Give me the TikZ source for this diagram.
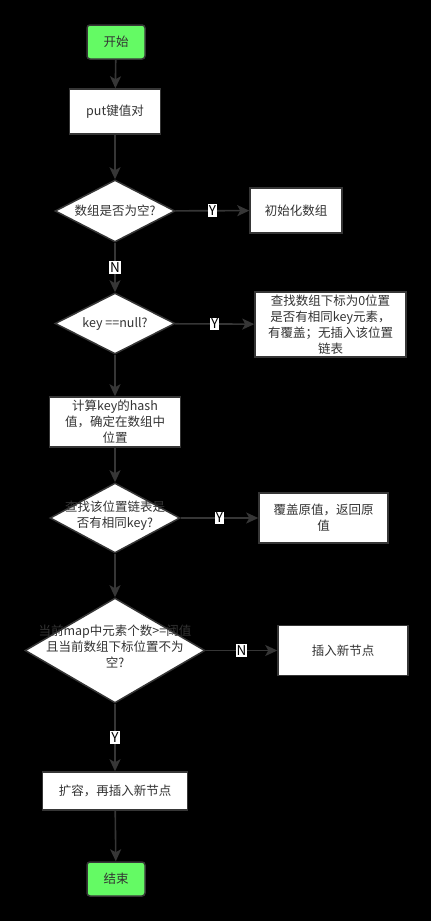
\documentclass[tikz,border=0pt]{standalone}
\usepackage{fontspec}
\setmainfont{Noto Sans CJK SC}
\usetikzlibrary{shapes.geometric,arrows.meta}
\definecolor{startgreen}{RGB}{100,250,100}
\definecolor{linegray}{RGB}{54,54,54}
\definecolor{textgray}{RGB}{51,51,51}

\begin{document}
\begin{tikzpicture}[x=1pt,y=-1pt,
    every node/.style={font=\fontsize{12.5}{16}\selectfont, text=textgray},
    startstop/.style={rectangle, rounded corners=3pt, draw=linegray, line width=1.5pt, fill=startgreen, minimum width=58pt, minimum height=34pt},
    procbox/.style={rectangle, draw=linegray, line width=1.5pt, fill=white, align=center, inner sep=0pt},
    decision/.style={diamond, draw=linegray, line width=1.5pt, fill=white, inner sep=0pt},
    dtext/.style={align=center, inner sep=0pt},
    arr/.style={draw=linegray, line width=1.6pt, -{Stealth[length=12pt,width=11pt,inset=3pt]}},
    lbl/.style={fill=white, text=black, inner xsep=1pt, inner ysep=1.5pt, font=\fontsize{13.5}{14}\selectfont}]
    % Fond
    \fill[black] (0,0) rectangle (431,921);

    % Colonne principale
    \node[startstop] (start) at (116,42) {开始};
    \node[procbox, minimum width=91pt, minimum height=45pt] (put) at (115,111.5) {put键值对};
    \node[decision, minimum width=120pt, minimum height=62pt] (d1) at (115,211) {};
    \node[dtext] (d1t) at (d1) {数组是否为空?};
    \node[decision, minimum width=120pt, minimum height=61pt] (d2) at (115,323.5) {};
    \node[dtext] (d2t) at (d2) {key ==null?};
    \node[procbox, minimum width=131pt, minimum height=50pt] (hash) at (115,422) {计算key的hash\\值，确定在数组中\\位置};
    \node[decision, minimum width=130pt, minimum height=70pt] (d3) at (115,518) {};
    \node[dtext] (d3t) at ([yshift=2pt]d3.center) {查找该位置链表是\\否有相同key?};
    \node[decision, minimum width=180pt, minimum height=105pt] (d4) at (115,650.5) {};
    \node[dtext] (d4t) at ([yshift=4pt]d4.center) {当前map中元素个数>=阈值\\且当前数组下标位置不为\\空?};
    \node[procbox, minimum width=145pt, minimum height=38pt] (grow) at (115,791) {扩容，再插入新节点};
    \node[startstop] (end) at (116,879) {结束};

    % Colonne de droite
    \node[procbox, minimum width=92pt, minimum height=45pt] (init) at (296,210.5) {初始化数组};
    \node[procbox, minimum width=151pt, minimum height=65pt] (find) at (330.5,324.5) {查找数组下标为0位置\\是否有相同key元素，\\有覆盖；无插入该位置\\链表};
    \node[procbox, minimum width=129pt, minimum height=50pt] (cover) at (323.5,518) {覆盖原值，返回原\\值};
    \node[procbox, minimum width=130pt, minimum height=50pt] (insert) at (343,650.5) {插入新节点};

    % Fleches
    \draw[arr] (start) -- (put);
    \draw[arr] (put) -- (d1);
    \draw[arr] (d1) -- node[lbl] (y1) {Y} (init);
    \draw[arr] (d1) -- node[lbl] (n1) {N} (d2);
    \draw[arr] (d2) -- node[lbl] (y2) {Y} (find);
    \draw[arr] (d2) -- (hash);
    \draw[arr] (hash) -- (d3);
    \draw[arr] (d3) -- node[lbl] (y3) {Y} (cover);
    \draw[arr] (d3) -- (d4);
    \draw[arr] (d4) -- node[lbl] (n4) {N} (insert);
    \draw[arr] (d4) -- node[lbl] (y4) {Y} (grow);
    \draw[arr] (grow) -- (end);
\end{tikzpicture}
\end{document}
